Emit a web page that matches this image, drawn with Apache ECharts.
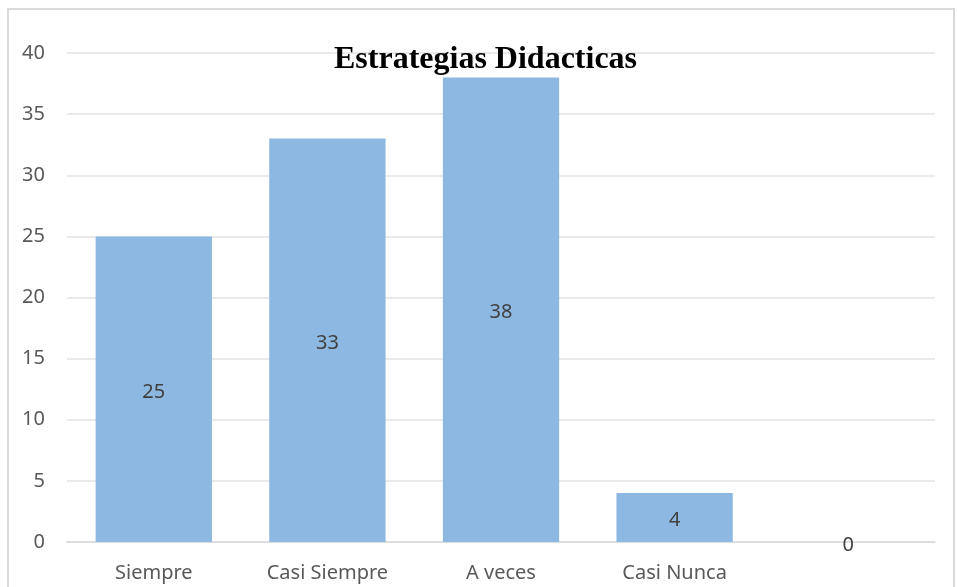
<!DOCTYPE html>
<html>
<head>
<meta charset="utf-8">
<script src="https://cdn.jsdelivr.net/npm/echarts@6/dist/echarts.min.js"></script>
<style>
  html, body { margin: 0; padding: 0; background: #fff; }
  #chart { width: 957px; height: 587px; }
</style>
</head>
<body>
<div id="chart"></div>
<script>
const categories = ["Siempre", "Casi Siempre", "A veces", "Casi Nunca", ""];
const values = [25, 33, 38, 4, 0];
const yTicks = [0, 5, 10, 15, 20, 25, 30, 35, 40];

const chart = echarts.init(document.getElementById("chart"));
const labelFont = "'Noto Sans', sans-serif";

chart.setOption({
  animation: false,
  backgroundColor: "#fff",
  title: {
    text: "Estrategias Didacticas",
    left: 329,
    top: 39,
    textStyle: {
      fontFamily: "'Liberation Serif', serif",
      fontWeight: "bold",
      fontSize: 32,
      color: "#000",
    },
  },
  graphic: [
    {
      type: "rect",
      shape: { x: 8, y: 9, width: 946, height: 600 },
      style: { fill: "none", stroke: "#d9d9d9", lineWidth: 2 },
      z: -1,
    },
  ],
  grid: { left: 67, right: 22, top: 53, bottom: 45 },
  xAxis: {
    type: "category",
    data: categories,
    axisLine: { lineStyle: { color: "#d9d9d9", width: 1.5 } },
    axisTick: { show: false },
    axisLabel: { color: "#595959", fontSize: 20, fontFamily: labelFont, margin: 21 },
  },
  yAxis: {
    type: "value",
    min: yTicks[0],
    max: yTicks[yTicks.length - 1],
    interval: 5,
    axisLine: { show: false },
    axisTick: { show: false },
    splitLine: { lineStyle: { color: "#e3e3e3", width: 1.5 } },
    axisLabel: { color: "#595959", fontSize: 20, fontFamily: labelFont, margin: 22 },
  },
  series: [
    {
      type: "bar",
      data: values,
      barCategoryGap: "33%",
      itemStyle: { color: "#8db8e2" },
      label: {
        show: true,
        position: "inside",
        offset: [0, 3],
        color: "#404040",
        fontSize: 20,
        fontFamily: labelFont,
      },
    },
  ],
});
</script>
</body>
</html>
